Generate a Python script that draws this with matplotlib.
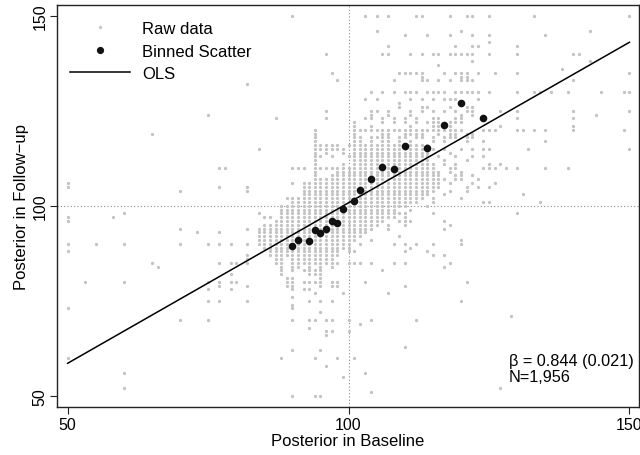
import matplotlib
matplotlib.use("Agg")
import matplotlib.pyplot as plt
from matplotlib.lines import Line2D

plt.rcParams['font.family'] = ['Liberation Sans', 'DejaVu Sans']

# ---- data ----
# raw data: unique positions, per y-row: x values ("a-b" = every integer a..b)
raw_rows = [
    (150, "90, 103, 105, 107, 112, 113, 118, 121, 122, 125, 133, 150"),
    (146, "105, 120, 143"),
    (145, "110, 114, 118, 122, 125, 135"),
    (143, "125"),
    (142, "107, 119, 122, 123, 130"),
    (140, "96, 106, 107, 111, 113, 115, 116, 118-122, 125, 130, 140, 141"),
    (138, "122, 143"),
    (137, "116"),
    (136, "138"),
    (135, "97, 109-113, 117, 119-121, 123, 126, 130, 150"),
    (134, "113, 120, 121"),
    (133, "98, 108, 113, 114, 116, 118, 120-122, 140"),
    (132, "82"),
    (130, "104, 106, 108, 110-112, 114-117, 119-123, 125, 130, 133, 134, 136, 139, 145, 149, 150"),
    (128, "103, 105, 111, 113, 115, 117-119, 123"),
    (127, "109"),
    (126, "109, 113, 114, 118, 121, 122"),
    (125, "96, 104, 105, 107, 111, 113, 115, 117, 119, 121, 122, 127, 130, 140, 150"),
    (124, "75, 104, 107, 111, 120, 122, 144"),
    (123, "87, 96, 103, 104, 106, 108, 110, 112, 115, 116, 119, 120, 130, 140"),
    (122, "101, 106, 108, 110, 112, 114-116, 118-120"),
    (121, "101, 104, 111, 115, 116, 118, 127, 140"),
    (120, "94, 101-120, 124-126, 130, 131, 133, 135, 140, 149"),
    (119, "65, 94, 101, 106, 107, 110-113, 116, 118, 119, 121, 122"),
    (118, "94, 101, 102, 104-107, 109, 110, 112, 113, 115, 117-119, 121, 122"),
    (117, "94, 101, 102, 104, 106, 107, 109, 111, 115, 117, 121, 124, 135"),
    (116, "94-98, 100-114"),
    (115, "84, 94-99, 101-115, 117, 120, 122, 124, 125, 132, 150"),
    (114, "94, 96, 99, 101-114, 118"),
    (113, "94, 95, 97, 100-114, 116, 119, 122, 124"),
    (112, "94, 101-114, 117, 121"),
    (111, "94, 99, 101-115, 117, 119, 125, 127"),
    (110, "77, 78, 90-92, 94-115, 118, 119, 124-126, 128, 130, 135, 139"),
    (109, "94, 98-116, 118, 120"),
    (108, "94, 97-116, 119, 120, 122"),
    (107, "94-117, 119, 120, 123"),
    (106, "50, 90, 92-116, 118, 122, 126"),
    (105, "50, 77, 82, 92-116, 121, 123, 125"),
    (104, "70, 82, 92-115, 118, 121"),
    (103, "92-114, 117, 131"),
    (102, "89-113, 115, 120"),
    (101, "90-112, 115, 124, 125, 134"),
    (100, "88-110, 114"),
    (99, "88-108, 111"),
    (98, "60, 84, 88-110, 115, 130"),
    (97, "50, 58, 85, 86, 88-108, 110"),
    (96, "50, 87-106, 109-111, 117"),
    (95, "85-105, 107, 110, 118"),
    (94, "70, 82, 84-104, 107, 117"),
    (93, "73, 77, 84-103"),
    (92, "84-102, 109"),
    (91, "84-101, 104, 120"),
    (90, "50, 55, 60, 70, 75, 77, 79, 82, 84-100, 102, 108, 110, 112, 115, 120"),
    (89, "85-100, 111"),
    (88, "50, 86-98, 100, 101, 110, 114"),
    (87, "82, 86-98, 115, 117"),
    (86, "82, 87, 88, 90-97"),
    (85, "65, 77, 79, 80, 82, 87, 88, 90-98, 100-102, 104, 108, 110, 118"),
    (84, "66, 88, 90, 91, 93, 95, 97, 117"),
    (83, "88, 90, 92-95, 106"),
    (82, "79, 88, 93-95"),
    (81, "89, 90, 95"),
    (80, "53, 60, 75, 77, 79, 80, 89, 90, 92-95, 97, 98, 103, 121"),
    (79, "77, 82, 89, 90, 95, 97, 98, 110"),
    (78, "75, 79, 90, 92, 93"),
    (77, "94, 99, 107"),
    (76, "90"),
    (75, "75, 77, 82, 93, 95, 97, 120"),
    (74, "90"),
    (73, "50, 90"),
    (72, "95"),
    (71, "129"),
    (70, "70, 75, 90, 93, 94, 96, 97, 100, 104, 112"),
    (69, "102"),
    (68, "93"),
    (67, "96, 97, 100"),
    (66, "96"),
    (63, "110"),
    (62, "90, 95"),
    (60, "50, 88, 94, 98, 101"),
    (58, "96"),
    (56, "60, 103"),
    (55, "99"),
    (52, "60, 127"),
    (51, "104"),
    (50, "90, 94, 95"),
]

# binned scatter
bin_x = [90, 91, 93, 94, 95, 96, 97, 98, 99, 101, 102, 104, 106, 108, 110, 114, 117, 120, 124]
bin_y = [89.5, 91.1, 90.8, 93.6, 92.8, 94.0, 95.9, 95.6, 99.2, 101.2, 104.1, 107.1,
         110.3, 109.7, 115.6, 115.2, 121.3, 127.1, 123.0]

# OLS fit
ols_beta = 0.844
ols_se = 0.021
ols_intercept = 16.4
n_obs = 1956
ols_range = [50, 150]

ticks = [50, 100, 150]
x_label = "Posterior in Baseline"
y_label = "Posterior in Follow\u2212up"


def expand(spec):
    out = []
    for part in spec.split(","):
        part = part.strip()
        if "-" in part:
            a, b = part.split("-")
            out.extend(range(int(a), int(b) + 1))
        else:
            out.append(float(part))
    return out


raw_x, raw_y = [], []
for yv, spec in raw_rows:
    for xv in expand(spec):
        raw_x.append(xv)
        raw_y.append(yv)

fig = plt.figure(figsize=(6.4, 4.56), dpi=100)
ax = fig.add_axes([57 / 640, 48 / 456, 582 / 640, 402 / 456])

ax.set_xlim(48.1, 151.7)
ax.set_ylim(47.1, 152.8)

ax.axvline(100, color="#8c8c8c", lw=0.8, ls=(0, (1, 2)), zorder=1)
ax.axhline(100, color="#8c8c8c", lw=0.8, ls=(0, (1, 2)), zorder=1)

ax.scatter(raw_x, raw_y, s=5.5, color="#c3c3c3", linewidths=0, zorder=2)
ax.scatter(bin_x, bin_y, s=30, color="#111111", linewidths=0, zorder=4)
ox = ols_range
oy = [ols_intercept + ols_beta * v for v in ox]
ax.plot(ox, oy, color="black", lw=1.1, zorder=3)

ax.text(128.5, 59.4, "\u03b2 = %.3f (%.3f)" % (ols_beta, ols_se), fontsize=11.7,
        va="center", ha="left")
ax.text(128.5, 55.0, "N={:,}".format(n_obs), fontsize=11.7, va="center", ha="left")

ax.set_xticks(ticks)
ax.set_yticks(ticks)
ax.set_xticklabels([str(t) for t in ticks], fontsize=11.5)
ax.set_yticklabels([str(t) for t in ticks], fontsize=11.5, rotation=90, va="center")
ax.tick_params(direction="out", length=5, width=0.8, color="#222222", pad=2)
for sp in ax.spines.values():
    sp.set_linewidth(1.0)
    sp.set_color("#222222")

ax.set_xlabel(x_label, fontsize=12, labelpad=1)
ax.set_ylabel(y_label, fontsize=12, labelpad=2)

handles = [
    Line2D([], [], ls="none", marker="o", ms=2.3, color="#c3c3c3", mec="none"),
    Line2D([], [], ls="none", marker="o", ms=5.2, color="#111111", mec="none"),
    Line2D([], [], color="black", lw=1.1),
]
ax.legend(handles, ["Raw data", "Binned Scatter", "OLS"], loc="upper left",
          bbox_to_anchor=(0.022, 0.96), frameon=False, fontsize=12,
          handlelength=3.6, handletextpad=0.75, labelspacing=0.45,
          borderpad=0, borderaxespad=0)

fig.savefig("out.png", dpi=100)
